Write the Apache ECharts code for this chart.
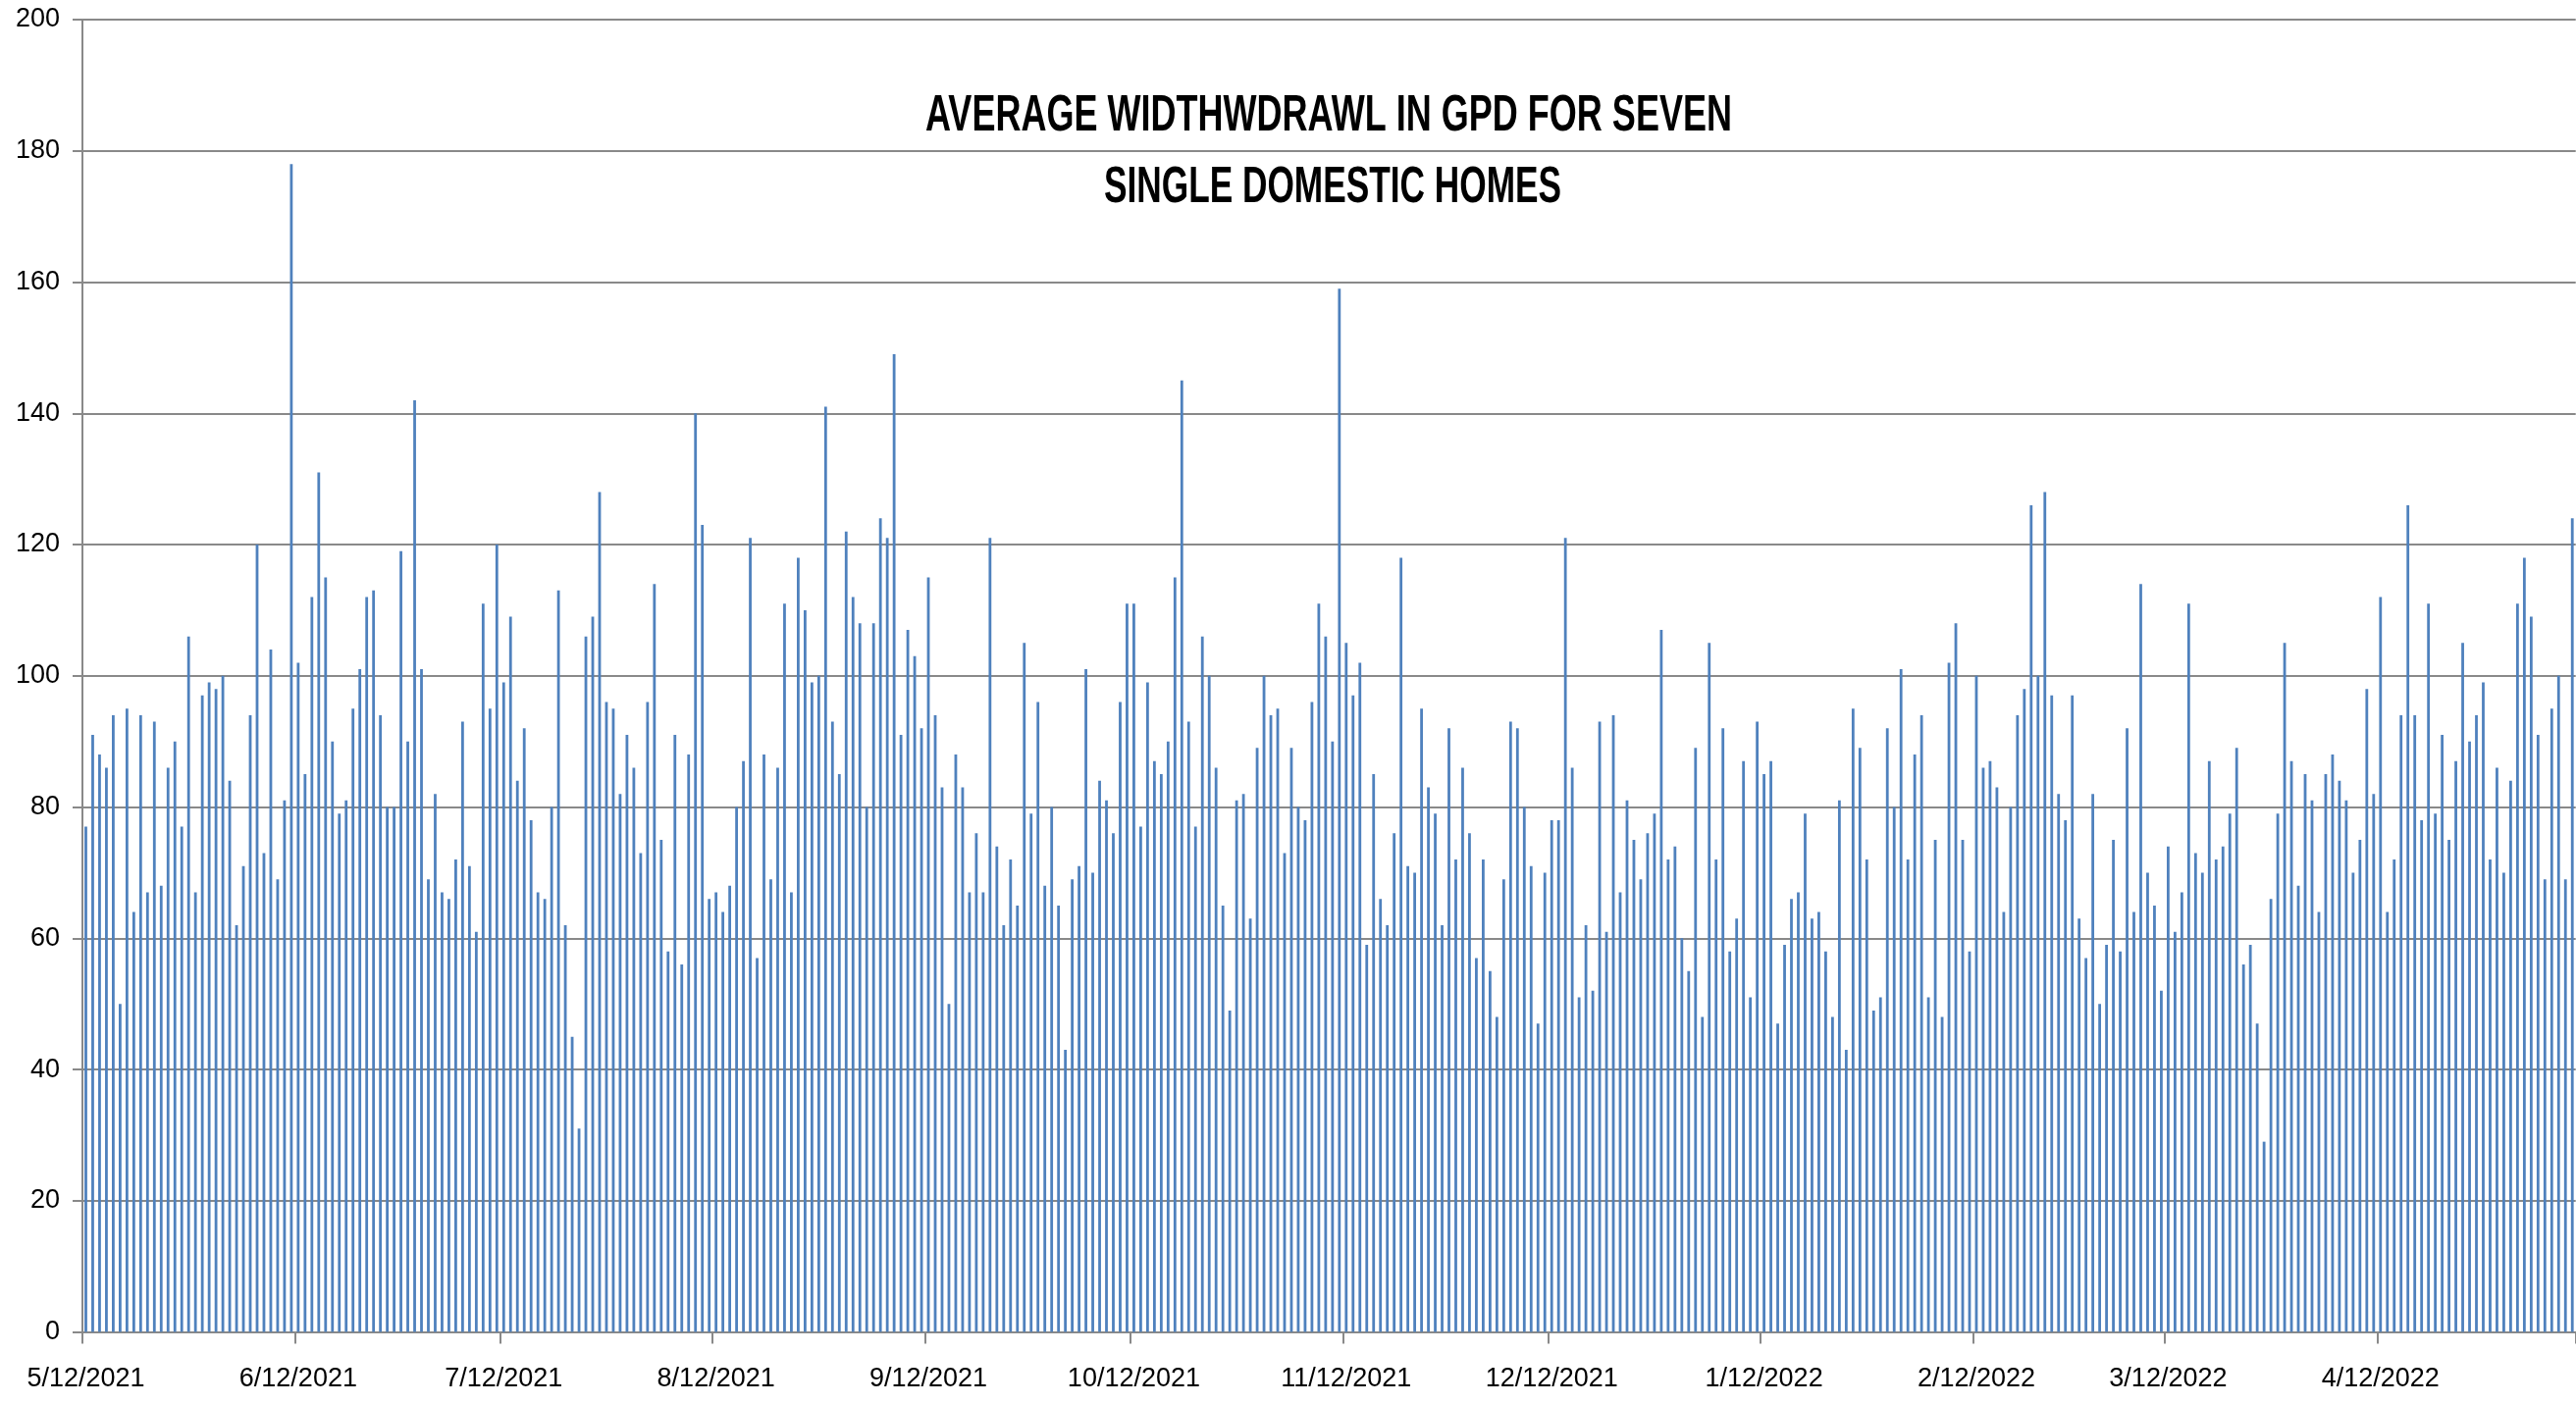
<!DOCTYPE html>
<html>
<head>
<meta charset="utf-8">
<script src="https://cdn.jsdelivr.net/npm/echarts@6/dist/echarts.min.js"></script>
<style>
  html, body { margin: 0; padding: 0; background: #ffffff; }
  #chart { width: 2625px; height: 1431px; }
</style>
</head>
<body>
<div id="chart"></div>
<script>
// Daily average withdrawal (GPD), one value per day starting 5/12/2021
var startDate = [2021, 5, 12];
var seg2021May = [77,91,88,86,94,50,95,64,94,67,93,68,86,90,77,106,67,97,99,98,100,84,62,71,94,120,73,104,69,81,178];
var seg2021Jun = [102,85,112,131,115,90,79,81,95,101,112,113,94,80,80,119,90,142,101,69,82,67,66,72,93,71,61,111,95,120];
var seg2021Jul = [99,109,84,92,78,67,66,80,113,62,45,31,106,109,128,96,95,82,91,86,73,96,114,75,58,91,56,88,140,123,66];
var seg2021Aug = [67,64,68,80,87,121,57,88,69,86,111,67,118,110,99,100,141,93,85,122,112,108,80,108,124,121,149,91,107,103,92];
var seg2021Sep = [115,94,83,50,88,83,67,76,67,121,74,62,72,65,105,79,96,68,80,65,43,69,71,101,70,84,81,76,96,111];
var seg2021Oct = [111,77,99,87,85,90,115,145,93,77,106,100,86,65,49,81,82,63,89,100,94,95,73,89,80,78,96,111,106,90,159];
var seg2021Nov = [105,97,102,59,85,66,62,76,118,71,70,95,83,79,62,92,72,86,76,57,72,55,48,69,93,92,80,71,47,70];
var seg2021Dec = [78,78,121,86,51,62,52,93,61,94,67,81,75,69,76,79,107,72,74,60,55,89,48,105,72,92,58,63,87,51,93];
var seg2022Jan = [85,87,47,59,66,67,79,63,64,58,48,81,43,95,89,72,49,51,92,80,101,72,88,94,51,75,48,102,108,75,58];
var seg2022Feb = [100,86,87,83,64,80,94,98,126,100,128,97,82,78,97,63,57,82,50,59,75,58,92,64,114,70,65,52];
var seg2022Mar = [74,61,67,111,73,70,87,72,74,79,89,56,59,47,29,66,79,105,87,68,85,81,64,85,88,84,81,70,75,98,82];
var seg2022Apr = [112,64,72,94,126,94,78,111,79,91,75,87,105,90,94,99,72,86,70,84,111,118,109,91,69,95,100,69,124];

var tickLabels = ['5/12/2021','6/12/2021','7/12/2021','8/12/2021','9/12/2021','10/12/2021',
                  '11/12/2021','12/12/2021','1/12/2022','2/12/2022','3/12/2022','4/12/2022'];
var yTicks = [0, 200, 20]; // min, max, interval
var titleLines = ['AVERAGE WIDTHWDRAWL IN GPD FOR SEVEN', 'SINGLE DOMESTIC HOMES'];

var values = [].concat(seg2021May, seg2021Jun, seg2021Jul, seg2021Aug, seg2021Sep, seg2021Oct,
                       seg2021Nov, seg2021Dec, seg2022Jan, seg2022Feb, seg2022Mar, seg2022Apr);

var categories = values.map(function (v, i) {
  var d = new Date(Date.UTC(startDate[0], startDate[1] - 1, startDate[2] + i));
  return (d.getUTCMonth() + 1) + '/' + d.getUTCDate() + '/' + d.getUTCFullYear();
});

// layout
var gridLeft = 84, gridTop = 20, gridHeight = 1337.6, band = 6.98;
var gridWidth = band * values.length;
var titleFont = 'bold 51px "Liberation Sans", Arial, sans-serif';
var titleSpec = [
  { cx: 1354, cy: 119, w: 822 },
  { cx: 1358, cy: 192, w: 466 }
];
var measureCtx = document.createElement('canvas').getContext('2d');
measureCtx.font = titleFont;

var graphics = titleLines.map(function (t, i) {
  var w = measureCtx.measureText(t).width;
  return {
    type: 'text',
    x: titleSpec[i].cx,
    y: titleSpec[i].cy,
    scaleX: titleSpec[i].w / w,
    scaleY: 1,
    silent: true,
    style: {
      text: t,
      x: 0, y: 0,
      font: titleFont,
      fill: '#000000',
      align: 'center',
      verticalAlign: 'middle'
    }
  };
});

function isLabeled(idx, val) { return tickLabels.indexOf(val) >= 0; }

var chart = echarts.init(document.getElementById('chart'), null, { renderer: 'canvas' });
chart.setOption({
  animation: false,
  backgroundColor: '#ffffff',
  grid: { left: gridLeft, top: gridTop, width: gridWidth, height: gridHeight, containLabel: false },
  graphic: graphics,
  xAxis: {
    type: 'category',
    data: categories,
    boundaryGap: true,
    axisLine: { show: true, lineStyle: { color: '#898989', width: 2 } },
    axisTick: { show: true, interval: isLabeled, length: 12, lineStyle: { color: '#898989', width: 2 } },
    axisLabel: {
      interval: isLabeled,
      margin: 34,
      fontFamily: '"Liberation Sans", Arial, sans-serif',
      fontSize: 27,
      color: '#000000'
    },
    splitLine: { show: false }
  },
  yAxis: {
    type: 'value',
    min: yTicks[0],
    max: yTicks[1],
    interval: yTicks[2],
    axisLine: { show: true, lineStyle: { color: '#898989', width: 2 } },
    axisTick: { show: true, length: 10, lineStyle: { color: '#898989', width: 2 } },
    axisLabel: {
      margin: 23,
      fontFamily: '"Liberation Sans", Arial, sans-serif',
      fontSize: 27,
      color: '#000000'
    },
    splitLine: { show: true, lineStyle: { color: '#898989', width: 2 } }
  },
  series: [{
    type: 'bar',
    data: values,
    barWidth: 2.8,
    itemStyle: { color: '#4F81BD' }
  }]
});
</script>
</body>
</html>
